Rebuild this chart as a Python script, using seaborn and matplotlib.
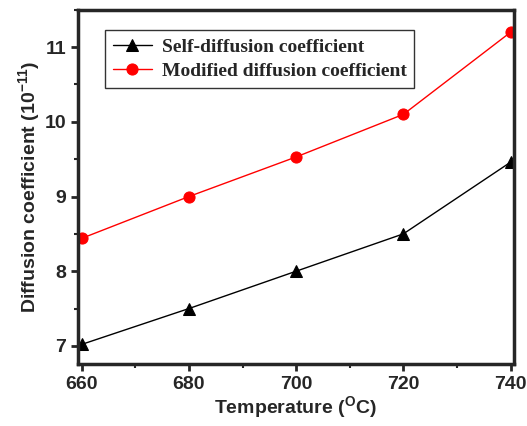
import pandas as pd
import matplotlib
matplotlib.use("Agg")
import matplotlib.pyplot as plt
import seaborn as sns
from matplotlib.ticker import MultipleLocator

sns.set_style("ticks")
plt.rcParams['font.family'] = ['Liberation Sans', 'DejaVu Sans']
plt.rcParams['mathtext.fontset'] = 'custom'
plt.rcParams['mathtext.rm'] = 'Liberation Sans:bold'
plt.rcParams['mathtext.bf'] = 'Liberation Sans:bold'
plt.rcParams['mathtext.default'] = 'bf'

# data
temperature = [660, 680, 700, 720, 740]
self_diff = [7.02, 7.5, 8.0, 8.5, 9.46]
modified_diff = [8.44, 9.0, 9.53, 10.1, 11.2]

df = pd.DataFrame({'Temperature': temperature,
                   'Self-diffusion coefficient': self_diff,
                   'Modified diffusion coefficient': modified_diff})

fig, ax = plt.subplots(figsize=(5.27, 4.26), dpi=100)
fig.subplots_adjust(left=0.148, right=0.975, top=0.977, bottom=0.146)

sns.lineplot(data=df, x='Temperature', y='Self-diffusion coefficient', ax=ax,
             color='black', marker='^', markersize=8, markeredgecolor='black',
             linewidth=1, label='Self-diffusion coefficient')
sns.lineplot(data=df, x='Temperature', y='Modified diffusion coefficient', ax=ax,
             color='red', marker='o', markersize=8, markeredgecolor='red',
             linewidth=1, label='Modified diffusion coefficient')

ax.set_xlim(659.3, 740.6)
ax.set_ylim(6.76, 11.5)
ax.xaxis.set_major_locator(MultipleLocator(20))
ax.xaxis.set_minor_locator(MultipleLocator(10))
ax.yaxis.set_major_locator(MultipleLocator(1))
ax.yaxis.set_minor_locator(MultipleLocator(0.5))

for s in ax.spines.values():
    s.set_linewidth(2.5)
    s.set_visible(True)
ax.tick_params(which='major', direction='out', length=5, width=2, labelsize=14)
ax.tick_params(which='minor', direction='out', length=3, width=1.5)
for lab in ax.get_xticklabels() + ax.get_yticklabels():
    lab.set_fontweight('bold')

ax.set_xlabel('Temperature ($^{O}$C)', fontsize=14, fontweight='bold', labelpad=1)
ax.set_ylabel('Diffusion coefficient (10$^{-11}$)', fontsize=14, fontweight='bold', labelpad=2)

leg = ax.legend(loc='upper left', bbox_to_anchor=(0.04, 0.97), frameon=True,
                fancybox=False, edgecolor='black', handlelength=2.0, handletextpad=0.5,
                prop={'family': 'Liberation Serif', 'weight': 'bold', 'size': 14},
                borderpad=0.4, labelspacing=0.35)
leg.get_frame().set_linewidth(1)

fig.savefig('out.png', dpi=100)
